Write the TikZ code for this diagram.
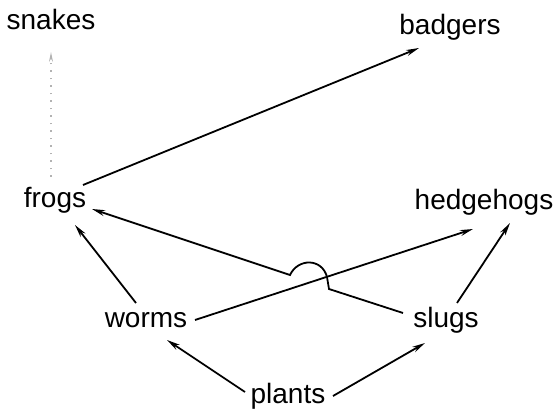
\documentclass[tikz,border=0pt]{standalone}
\usepackage{fontspec}
\setmainfont{Liberation Sans}
\usetikzlibrary{arrows.meta,calc}
\begin{document}
\begin{tikzpicture}[x=1pt,y=-1pt,
  animal/.style={anchor=base,inner sep=0pt,outer sep=0pt,font=\fontsize{28}{32}\selectfont},
  eats/.style={line width=1.8pt,-{Stealth[length=13pt,width=6pt]}},
  faint/.style={line width=1.2pt,gray!60,dash pattern=on 1.5pt off 6pt,-{Stealth[length=10pt,width=4pt]}}]
\useasboundingbox (0,0) rectangle (560,414);
\node[animal] (snakes) at (51,30) {snakes};
\node[animal] (badgers) at (450,35) {badgers};
\node[animal] (frogs) at (55,208) {frogs};
\node[animal] (hedgehogs) at (484,210) {hedgehogs};
\node[animal] (worms) at (146,327) {worms};
\node[animal] (slugs) at (446,327) {slugs};
\node[animal] (plants) at (288,403) {plants};
% frogs -> snakes (faint)
\draw[faint] ($(frogs.base)+(-4,-31)$) -- ($(snakes.base)+(0,22)$);
% frogs -> badgers
\draw[eats] ($(frogs.base)+(28,-23)$) -- ($(badgers.base)+(-31,13)$);
% slugs -> frogs with hop
\draw[eats] ($(slugs.base)+(-43,-14)$) -- (329,289) -- (327,277)
   .. controls (322,258) and (298,258) .. (290,275) -- ($(frogs.base)+(37,1)$);
% worms -> hedgehogs
\draw[eats] ($(worms.base)+(49,-7)$) -- ($(hedgehogs.base)+(-11,19)$);
% slugs -> hedgehogs
\draw[eats] ($(slugs.base)+(11,-24)$) -- ($(hedgehogs.base)+(26,13)$);
% worms -> frogs
\draw[eats] ($(worms.base)+(-10,-24)$) -- ($(frogs.base)+(20,17)$);
% plants -> worms
\draw[eats] ($(plants.base)+(-43,-11)$) -- ($(worms.base)+(21,13)$);
% plants -> slugs
\draw[eats] ($(plants.base)+(45,-7)$) -- ($(slugs.base)+(-21,16)$);
\end{tikzpicture}
\end{document}
